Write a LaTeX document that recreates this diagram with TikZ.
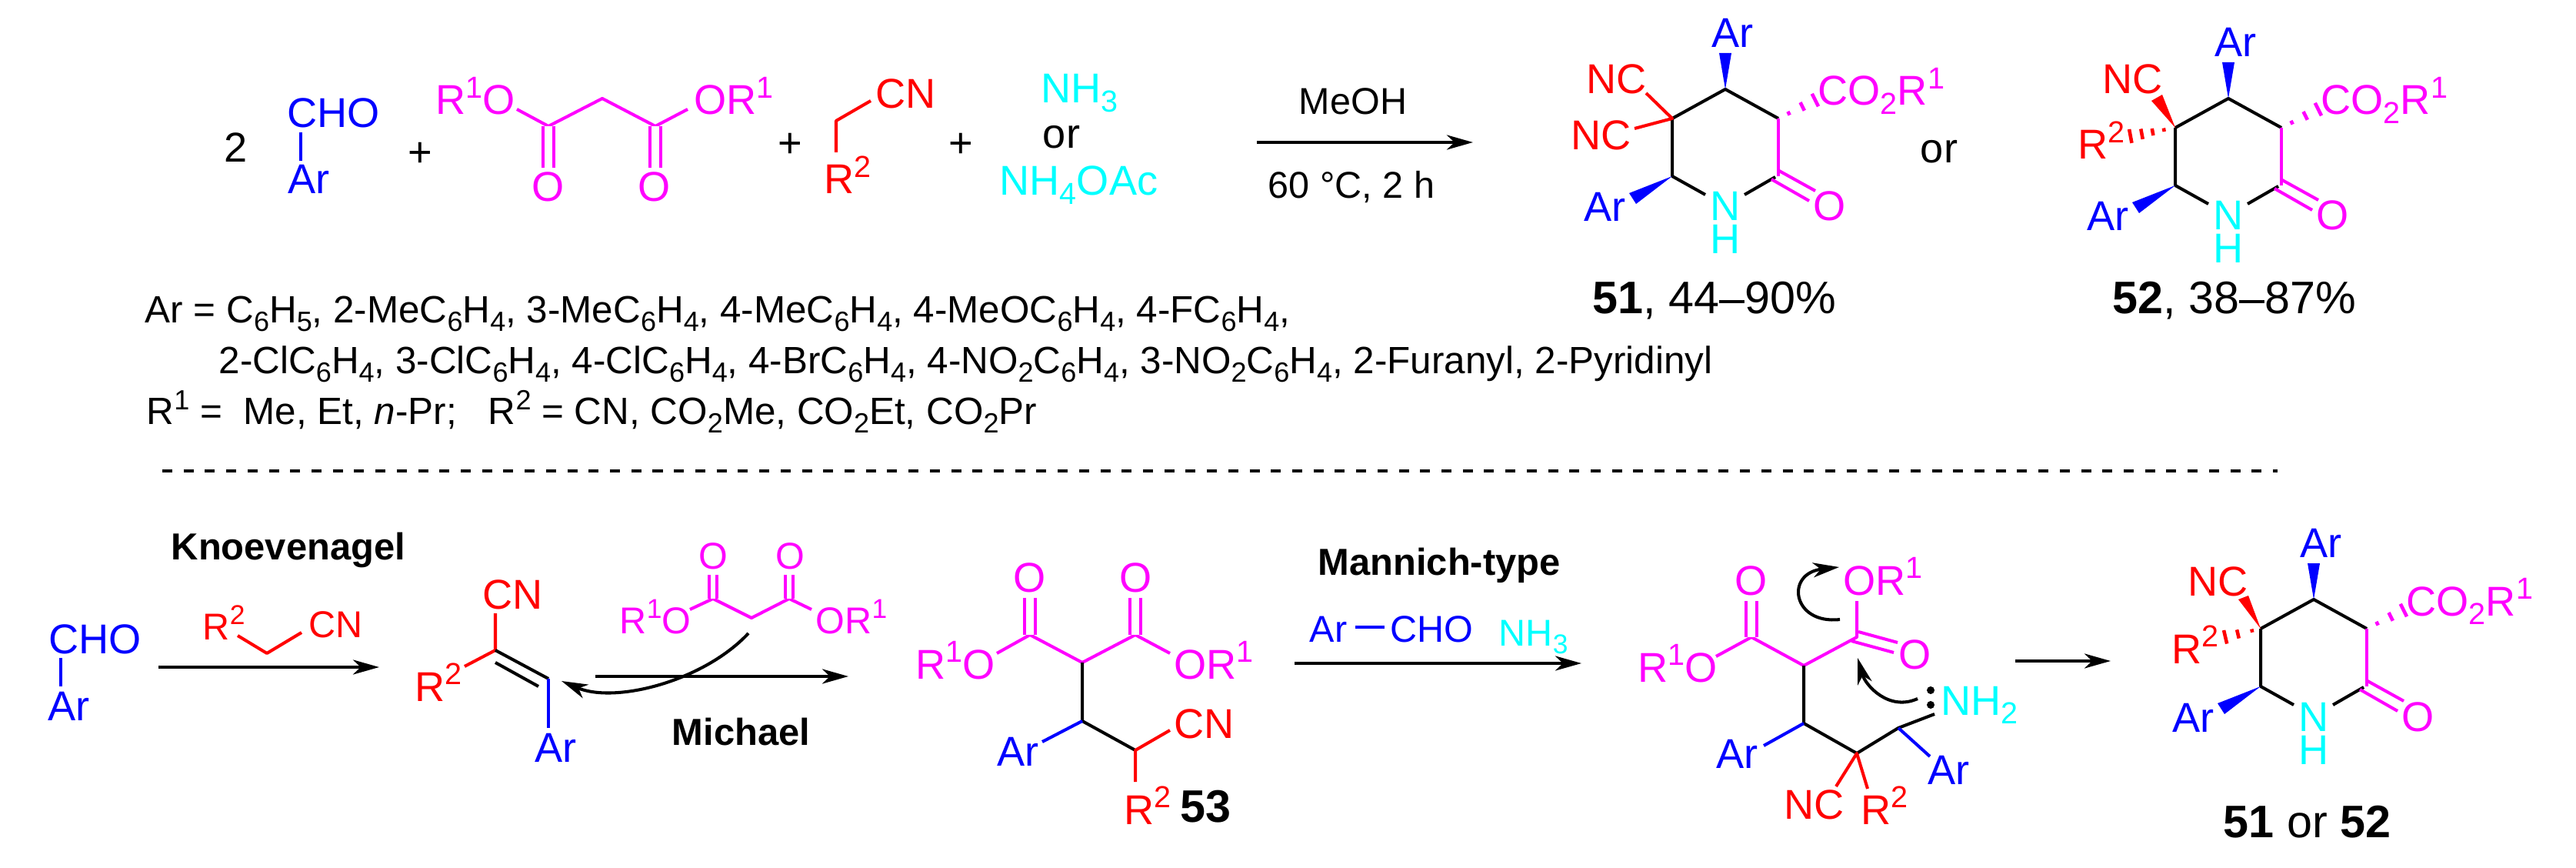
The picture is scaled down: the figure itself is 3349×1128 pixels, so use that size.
\documentclass[tikz,border=0pt]{standalone}
\usepackage{fontspec}
\setmainfont{Liberation Sans}
\usetikzlibrary{arrows.meta,calc}
\definecolor{magenta}{RGB}{255,0,255}
\definecolor{cyan}{RGB}{0,255,255}
\definecolor{blue}{RGB}{0,0,255}
\definecolor{red}{RGB}{255,0,0}
\newcommand{\arw}{-{Stealth[length=3.4mm,width=1.9mm,inset=1mm]}}
\newcommand{\chdn}[1]{\raisebox{-.21em}{\fontsize{\the\dimexpr.73em\relax}{0pt}\selectfont #1}}
\newcommand{\chup}[1]{\raisebox{.4em}{\fontsize{\the\dimexpr.73em\relax}{0pt}\selectfont #1}}
\newcommand{\cfh}{C\chdn{6}H\chdn{4}}
\tikzset{
  chem/.style={inner sep=0pt,anchor=base west,font=\fontsize{15.4pt}{15.4pt}\selectfont},
  chemc/.style={chem,anchor=base},
  small/.style={chem,font=\fontsize{13.8pt}{13.8pt}\selectfont},
  smallc/.style={small,anchor=base},
  listing/.style={chem,font=\fontsize{14.05pt}{14.05pt}\selectfont},
  tag/.style={chem,font=\fontsize{16.85pt}{16.85pt}\selectfont},
  head/.style={chem,font=\fontsize{13.9pt}{13.9pt}\selectfont\bfseries},
  bond/.style={line width=1.15pt,line join=round},
  dbl/.style={double,double distance=.1cm,line width=1.15pt},
  rxn/.style={line width=1.3pt},
  lonepair/.style={circle,fill=black,inner sep=0pt,minimum size=.1cm},
}
% wedge: tip, two corners
\newcommand{\wedgebond}[4]{\fill[#1] (#2) -- (#3) -- (#4) -- cycle;}
% hashed bond: colour, from, to, positions along it
\newcommand{\hashbond}[4]{\foreach \pos [evaluate=\pos as \hw using \pos*.1] in {#4}
  \draw[#1,line width=1.3pt] ($(#2)!\pos!(#3)!\hw cm!90:(#3)$) -- ($(#2)!\pos!(#3)!\hw cm!-90:(#3)$);}
% ring shared by 51, 52 and the last product
\newcommand{\piperidone}[3]{%
\begin{scope}[shift={(#2,#3)}]
\coordinate (#1a) at (0,0);
\coordinate (#1b) at (-69,38);
\coordinate (#1c) at (-69,113);
\coordinate (#1d) at (69,38);
\coordinate (#1e) at (69,113);
\coordinate (#1nl) at (-26,137);
\coordinate (#1nr) at (25,137);
\coordinate (#1er) at (65,114);
\draw[bond] (#1b) -- (#1a) -- (#1d);
\draw[bond] (#1b) -- (#1c) -- (#1nl);
\draw[bond] (#1nr) -- (#1er);
\draw[bond,magenta] (#1d) -- (#1e);
\coordinate (#1oa) at (70,106);
\coordinate (#1ob) at (117,132);
\coordinate (#1oc) at (60,117);
\coordinate (#1od) at (109,145);
\draw[bond,magenta] (#1oa) -- (#1ob);
\draw[bond,magenta] (#1oc) -- (#1od);
\node[chemc,cyan] (#1n) at (0,171) {N};
\node[chemc,cyan] (#1h) at (0,214) {H};
\node[chemc,magenta] (#1o) at (136,171) {O};
\node[chem,blue] (#1ar) at (-18,-54) {Ar};
\coordinate (#1wa) at (-8,-47);
\coordinate (#1wb) at (8,-47);
\wedgebond{blue}{#1a}{#1wa}{#1wb}
\node[chem,blue] (#1arb) at (-184,172) {Ar};
\coordinate (#1wc) at (-125,135);
\coordinate (#1wd) at (-116,149);
\wedgebond{blue}{#1c}{#1wc}{#1wd}
\node[chem,magenta] (#1co) at (120,21) {CO\chdn{2}R\chup{1}};
\coordinate (#1hs) at (121,12);
\hashbond{magenta}{#1d}{#1hs}{.26,.6,.92}
\end{scope}}

\begin{document}
\begin{tikzpicture}[x=.01cm,y=-.01cm]
\useasboundingbox (0,0) rectangle (3349,1128);
%top scheme, reagents
\node[chem] (two) at (291,211) {2};
\node[chem,blue] (cho) at (373,166) {CHO};
\node[chem,blue] (ar) at (374,252) {Ar};
\coordinate (choa) at (391,172);
\coordinate (chob) at (391,209);
\draw[bond,blue] (choa) -- (chob);
\node[chemc] (plusa) at (546,217) {+};
\node[chem,magenta] (estl) at (566,149) {R\chup{1}O};
\node[chem,magenta] (estr) at (902,149) {OR\chup{1}};
\node[chemc,magenta] (ola) at (713,262) {O};
\node[chemc,magenta] (olb) at (851,262) {O};
\coordinate (ma) at (672,142);
\coordinate (mb) at (713,164);
\coordinate (mc) at (783,128);
\coordinate (md) at (852,164);
\coordinate (me) at (894,142);
\coordinate (mf) at (713,218);
\coordinate (mg) at (852,218);
\draw[bond,magenta] (ma) -- (mb) -- (mc) -- (md) -- (me);
\draw[dbl,magenta] (mb) -- (mf);
\draw[dbl,magenta] (md) -- (mg);
\node[chemc] (plusb) at (1027,205) {+};
\node[chem,red] (cn) at (1138,141) {CN};
\node[chem,red] (rtwo) at (1071,252) {R\chup{2}};
\coordinate (na) at (1132,131);
\coordinate (nb) at (1087,157);
\coordinate (nc) at (1087,198);
\draw[bond,red] (na) -- (nb) -- (nc);
\node[chemc] (plusc) at (1249,205) {+};
\node[chem,cyan] (nhthree) at (1353,134) {NH\chdn{3}};
\node[chemc] (ortop) at (1380,193) {or};
\node[chem,cyan] (nhfour) at (1299,254) {NH\chdn{4}OAc};
%conditions
\coordinate (rxa) at (1634,185);
\coordinate (rxb) at (1915,185);
\draw[rxn,\arw] (rxa) -- (rxb);
\node[smallc] (meoh) at (1759,149) {MeOH};
\node[smallc] (temp) at (1757,258) {60 °C, 2 h};
%51
\piperidone{pa}{2243}{116}
\node[chem,red] (nca) at (2062,122) {NC};
\node[chem,red] (ncb) at (2042,195) {NC};
\coordinate (pan) at (2140,121);
\coordinate (pam) at (2125,167);
\draw[bond,red] (pan) -- (pab) -- (pam);
\node[tag] (taga) at (2070,408) {\textbf{51}, 44–90\%};
\node[chemc] (orprod) at (2521,212) {or};
%52
\piperidone{pb}{2897}{128}
\node[chem,red] (ncc) at (2733,122) {NC};
\node[chem,red] (rtwob) at (2701,207) {R\chup{2}};
\coordinate (pbwa) at (2797,131);
\coordinate (pbwb) at (2811,123);
\wedgebond{red}{pbb}{pbwa}{pbwb}
\coordinate (pbh) at (2764,178);
\hashbond{red}{pbb}{pbh}{.23,.46,.68,.91}
\node[tag] (tagb) at (2746,408) {\textbf{52}, 38–87\%};
%substituents
\node[listing] (lista) at (188,420) {Ar = C\chdn{6}H\chdn{5}, 2-Me\cfh, 3-Me\cfh, 4-Me\cfh, 4-MeO\cfh, 4-F\cfh,};
\node[listing] (listb) at (284,486) {2-Cl\cfh, 3-Cl\cfh, 4-Cl\cfh, 4-Br\cfh, 4-NO\chdn{2}\cfh, 3-NO\chdn{2}\cfh, 2-Furanyl, 2-Pyridinyl};
\node[listing] (listc) at (190,552) {R\chup{1} =\ \ Me, Et, \textit{n}-Pr;\ \ \ R\chup{2} = CN, CO\chdn{2}Me, CO\chdn{2}Et, CO\chdn{2}Pr};
\coordinate (sepa) at (211,612);
\coordinate (sepb) at (2961,612);
\draw[line width=1pt,dash pattern=on .13cm off .147cm] (sepa) -- (sepb);
%Knoevenagel
\node[chem,blue] (chob) at (63,849) {CHO};
\node[chem,blue] (arb) at (62,936) {Ar};
\coordinate (kna) at (79,855);
\coordinate (knb) at (79,892);
\draw[bond,blue] (kna) -- (knb);
\node[head] (knoev) at (222,728) {Knoevenagel};
\node[small,red] (rtwoc) at (263,831) {R\chup{2}};
\node[small,red] (cnb) at (401,828) {CN};
\coordinate (kra) at (309,826);
\coordinate (krb) at (347,849);
\coordinate (krc) at (392,822);
\draw[bond,red] (kra) -- (krb) -- (krc);
\coordinate (kxa) at (206,867);
\coordinate (kxb) at (493,867);
\draw[rxn,\arw] (kxa) -- (kxb);
%alkene
\node[chem,red] (cnc) at (627,791) {CN};
\node[chem,red] (rtwod) at (539,911) {R\chup{2}};
\node[chem,blue] (arc) at (695,990) {Ar};
\coordinate (ala) at (644,797);
\coordinate (alb) at (644,845);
\coordinate (alc) at (604,866);
\coordinate (ald) at (713,882);
\coordinate (ale) at (644,861);
\coordinate (alf) at (700,892);
\coordinate (alg) at (713,946);
\draw[bond,red] (ala) -- (alb) -- (alc);
\draw[bond] (alb) -- (ald);
\draw[bond] (ale) -- (alf);
\draw[bond,blue] (ald) -- (alg);
%Michael
\node[smallc,magenta] (olc) at (927,739) {O};
\node[smallc,magenta] (old) at (1027,739) {O};
\node[small,magenta] (estc) at (805,823) {R\chup{1}O};
\node[small,magenta] (estd) at (1060,823) {OR\chup{1}};
\coordinate (mha) at (897,792);
\coordinate (mhb) at (927,778);
\coordinate (mhc) at (977,803);
\coordinate (mhd) at (1026,778);
\coordinate (mhe) at (1055,792);
\coordinate (mhf) at (927,747);
\coordinate (mhg) at (1026,747);
\draw[bond,magenta] (mha) -- (mhb) -- (mhc) -- (mhd) -- (mhe);
\draw[dbl,double distance=.06cm,magenta] (mhb) -- (mhf);
\draw[dbl,double distance=.06cm,magenta] (mhd) -- (mhg);
\coordinate (mxa) at (774,879);
\coordinate (mxb) at (1103,879);
\draw[rxn,\arw] (mxa) -- (mxb);
\coordinate (cua) at (973,823);
\coordinate (cub) at (730,885);
\draw[bond,\arw] (cua) .. controls (915,885) and (800,915) .. (cub);
\node[head] (mich) at (873,968) {Michael};
%53
\node[chemc,magenta] (ole) at (1339,769) {O};
\node[chemc,magenta] (olf) at (1477,769) {O};
\node[chem,magenta] (este) at (1190,882) {R\chup{1}O};
\node[chem,magenta] (estf) at (1526,882) {OR\chup{1}};
\coordinate (sa) at (1296,849);
\coordinate (sb) at (1339,825);
\coordinate (sc) at (1407,861);
\coordinate (sd) at (1476,825);
\coordinate (se) at (1521,849);
\coordinate (sf) at (1339,777);
\coordinate (sg) at (1476,777);
\coordinate (sh) at (1407,937);
\coordinate (si) at (1355,964);
\coordinate (sj) at (1476,975);
\coordinate (sk) at (1521,949);
\coordinate (sl) at (1476,1016);
\draw[bond,magenta] (sa) -- (sb) -- (sc) -- (sd) -- (se);
\draw[dbl,magenta] (sb) -- (sf);
\draw[dbl,magenta] (sd) -- (sg);
\draw[bond] (sc) -- (sh) -- (sj);
\draw[bond,blue] (sh) -- (si);
\draw[bond,red] (sk) -- (sj) -- (sl);
\node[chem,blue] (ard) at (1296,995) {Ar};
\node[chem,red] (cnd) at (1526,959) {CN};
\node[chem,red] (rtwoe) at (1461,1071) {R\chup{2}};
\node[tag] (tagc) at (1534,1068) {\textbf{53}};
%Mannich
\node[head] (mann) at (1713,748) {Mannich-type};
\node[small,blue] (are) at (1702,834) {Ar};
\node[small,blue] (choc) at (1807,834) {CHO};
\coordinate (daa) at (1762,815);
\coordinate (dab) at (1800,815);
\draw[bond,blue] (daa) -- (dab);
\node[small,cyan] (nhthreeb) at (1948,839) {NH\chdn{3}};
\coordinate (nxa) at (1683,862);
\coordinate (nxb) at (2056,862);
\draw[rxn,\arw] (nxa) -- (nxb);
%intermediate
\node[chemc,magenta] (olg) at (2277,773) {O};
\node[chem,magenta] (estg) at (2396,773) {OR\chup{1}};
\node[chem,magenta] (esth) at (2129,886) {R\chup{1}O};
\node[chemc,magenta] (olh) at (2490,869) {O};
\node[chem,cyan] (nhtwo) at (2523,929) {NH\chdn{2}};
\node[lonepair] (lpa) at (2510,897) {};
\node[lonepair] (lpb) at (2510,916) {};
\coordinate (ia) at (2231,853);
\coordinate (ib) at (2277,828);
\coordinate (ic) at (2345,865);
\coordinate (id) at (2414,828);
\coordinate (ie) at (2277,781);
\coordinate (if) at (2414,781);
\coordinate (ig) at (2416,821);
\coordinate (ih) at (2467,835);
\coordinate (ii) at (2407,833);
\coordinate (ij) at (2462,848);
\coordinate (ik) at (2345,940);
\coordinate (il) at (2293,969);
\coordinate (im) at (2414,979);
\coordinate (in) at (2468,946);
\coordinate (io) at (2515,928);
\coordinate (ip) at (2509,983);
\coordinate (iq) at (2387,1022);
\coordinate (ir) at (2428,1025);
\draw[bond,magenta] (ia) -- (ib) -- (ic) -- (id) -- (if);
\draw[dbl,magenta] (ib) -- (ie);
\draw[bond,magenta] (ig) -- (ih);
\draw[bond,magenta] (ii) -- (ij);
\draw[bond] (ic) -- (ik) -- (im) -- (in) -- (io);
\draw[bond,blue] (ik) -- (il);
\draw[bond,blue] (in) -- (ip);
\draw[bond,red] (iq) -- (im) -- (ir);
\node[chem,blue] (arf) at (2231,998) {Ar};
\node[chem,blue] (arg) at (2506,1019) {Ar};
\node[chem,red] (nce) at (2319,1064) {NC};
\node[chem,red] (rtwof) at (2419,1071) {R\chup{2}};
\coordinate (cva) at (2392,805);
\coordinate (cvb) at (2391,737);
\draw[bond,\arw] (cva) .. controls (2330,812) and (2320,745) .. (cvb);
\coordinate (cwa) at (2493,908);
\coordinate (cwb) at (2415,855);
\draw[bond,\arw] (cwa) .. controls (2455,925) and (2425,890) .. (cwb);
\coordinate (oxa) at (2620,859);
\coordinate (oxb) at (2744,859);
\draw[rxn,\arw] (oxa) -- (oxb);
%last product
\piperidone{pc}{3008}{779}
\node[chem,red] (ncf) at (2844,774) {NC};
\node[chem,red] (rtwog) at (2823,862) {R\chup{2}};
\coordinate (pcwa) at (2910,779);
\coordinate (pcwb) at (2923,774);
\wedgebond{red}{pcb}{pcwa}{pcwb}
\coordinate (pch) at (2888,829);
\hashbond{red}{pcb}{pch}{.22,.58,.9}
\node[tag] (tagd) at (2890,1088) {\textbf{51} or \textbf{52}};
\end{tikzpicture}
\end{document}
